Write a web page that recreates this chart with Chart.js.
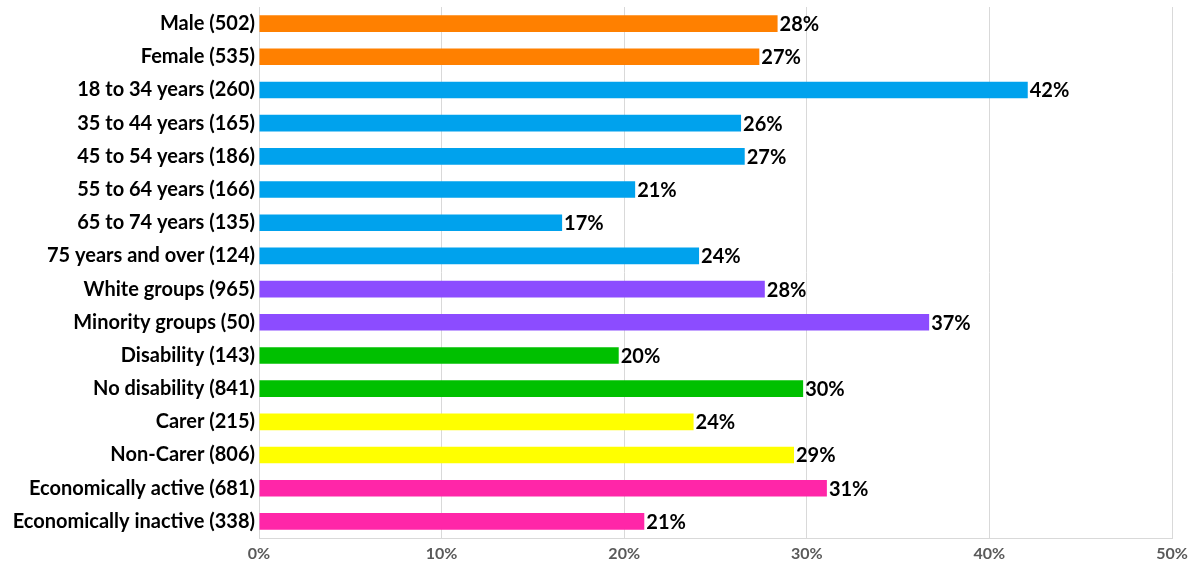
<!DOCTYPE html>
<html>
<head>
<meta charset="utf-8">
<script src="https://cdn.jsdelivr.net/npm/chart.js@4"></script>
<style>
  html, body { margin: 0; padding: 0; background: #fff; }
  #wrap { width: 1194px; height: 563px; position: relative; }
</style>
</head>
<body>
<div id="wrap"><canvas id="groupChart"></canvas></div>
<script>
// Categories (label includes base size) and share values in percent
const categories = [
  "Male (502)", "Female (535)",
  "18 to 34 years (260)", "35 to 44 years (165)", "45 to 54 years (186)",
  "55 to 64 years (166)", "65 to 74 years (135)", "75 years and over (124)",
  "White groups (965)", "Minority groups (50)",
  "Disability (143)", "No disability (841)",
  "Carer (215)", "Non-Carer (806)",
  "Economically active (681)", "Economically inactive (338)"
];
const values = [28.4, 27.4, 42.1, 26.4, 26.6, 20.6, 16.6, 24.1, 27.7, 36.7, 19.7, 29.8, 23.8, 29.3, 31.1, 21.1];
const groups = ["sex", "sex", "age", "age", "age", "age", "age", "age", "eth", "eth", "dis", "dis", "carer", "carer", "econ", "econ"];
const xTicks = [0, 10, 20, 30, 40, 50];

const colors = {
  sex: "#ff8000",
  age: "#00a2ed",
  eth: "#8c4cff",
  dis: "#00c000",
  carer: "#ffff00",
  econ: "#ff26a8",
  grid: "#d9d9d9",
  tick: "#595959",
};

// value labels at the end of every bar
const barLabels = {
  id: "barLabels",
  afterDatasetsDraw(chart) {
    const ctx = chart.ctx;
    const meta = chart.getDatasetMeta(0);
    ctx.save();
    ctx.font = "bold 20px Lato, sans-serif";
    ctx.fillStyle = "#000";
    ctx.textAlign = "left";
    ctx.textBaseline = "middle";
    meta.data.forEach((bar, i) => {
      ctx.fillText(Math.round(values[i]) + "%", bar.x + 2, bar.y + 1);
    });
    ctx.restore();
  },
};

Chart.defaults.font.family = "Lato, sans-serif";

new Chart(document.getElementById("groupChart").getContext("2d"), {
  type: "bar",
  data: {
    labels: categories,
    datasets: [
      {
        data: values,
        backgroundColor: groups.map((g) => colors[g]),
        borderWidth: 0,
        barPercentage: 0.5,
        categoryPercentage: 1,
      },
    ],
  },
  options: {
    indexAxis: "y",
    responsive: true,
    maintainAspectRatio: false,
    animation: false,
    layout: { padding: { top: 7, right: 22, left: 0, bottom: 0 } },
    plugins: {
      legend: { display: false },
      tooltip: { enabled: false },
    },
    scales: {
      x: {
        min: 0,
        max: 50,
        afterBuildTicks: (s) => { s.ticks = xTicks.map((v) => ({ value: v })); },
        afterFit: (s) => { s.height = 25; s.paddingLeft = 0; s.paddingRight = 0; },
        grid: { color: colors.grid, drawTicks: false },
        border: { display: true, color: colors.grid },
        ticks: {
          padding: 6,
          color: colors.tick,
          font: { size: 16, weight: "bold" },
          callback: (v) => v + "%",
        },
      },
      y: {
        afterFit: (s) => { s.width = 259; s.paddingTop = 0; s.paddingBottom = 0; },
        grid: { display: false, drawTicks: false, tickLength: 0 },
        border: { display: true, color: colors.grid },
        ticks: {
          padding: 4,
          color: "#000",
          font: { size: 20, weight: "bold" },
          autoSkip: false,
        },
      },
    },
  },
  plugins: [barLabels],
});
</script>
</body>
</html>
